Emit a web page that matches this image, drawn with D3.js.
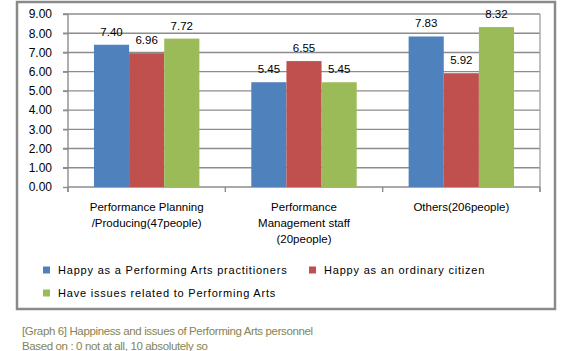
<!DOCTYPE html>
<meta charset="utf-8">
<style>
body { margin: 0; background: #fff; }
svg { display: block; font-family: "Liberation Sans", Arial, sans-serif; }
.grid line { stroke: #8c8c8c; stroke-width: 1.4px; }
.axis path, .axis line { stroke: #8c8c8c; stroke-width: 1.4px; }
.vlabel { font-size: 11.5px; fill: #000; text-anchor: middle; }
.ylab { font-size: 12px; fill: #000; text-anchor: end; }
.xlab { font-size: 11.5px; fill: #000; text-anchor: middle; }
.legend text { font-size: 11px; fill: #000; letter-spacing: 0.8px; }
.caption { font-size: 11.5px; fill: #848456; letter-spacing: -0.37px; }
</style>
<svg width="570" height="351"></svg>
<script src="https://d3js.org/d3.v7.min.js"></script>
<script>
var categories = [
  ["Performance Planning", "/Producing(47people)"],
  ["Performance", "Management staff", "(20people)"],
  ["Others(206people)"]
];
var seriesNames = [
  "Happy as a Performing Arts practitioners",
  "Happy as an ordinary citizen",
  "Have issues related to Performing Arts"
];
var happyPractitioner = [7.40, 5.45, 7.83];
var happyCitizen = [6.96, 6.55, 5.92];
var haveIssues = [7.72, 5.45, 8.32];
var yTicks = [0, 1, 2, 3, 4, 5, 6, 7, 8, 9];
var captionLines = [
  "[Graph 6] Happiness and issues of Performing Arts personnel",
  "Based on : 0 not at all, 10 absolutely so"
];
var colors = ["#4f81bd", "#c0504d", "#9bbb59"];

var series = [happyPractitioner, happyCitizen, haveIssues];

var svg = d3.select("svg");

// outer frame
svg.append("rect")
    .attr("x", 17).attr("y", 2)
    .attr("width", 538).attr("height", 307)
    .attr("fill", "#fff")
    .attr("stroke", "#8a8a8a")
    .attr("stroke-width", 2.5);

var plotLeft = 68, plotRight = 540, plotTop = 14, plotBottom = 187;

var x0 = d3.scaleBand()
    .domain(d3.range(categories.length))
    .range([plotLeft, plotRight])
    .paddingInner(0.33)
    .paddingOuter(0.165);

var x1 = d3.scaleBand()
    .domain(d3.range(series.length))
    .range([0, x0.bandwidth()]);

var y = d3.scaleLinear()
    .domain([0, 9])
    .range([plotBottom, plotTop]);

// gridlines
svg.append("g").attr("class", "grid")
  .selectAll("line")
  .data(yTicks.slice(1))
  .join("line")
    .attr("x1", plotLeft - 5).attr("x2", plotRight)
    .attr("y1", function(d) { return y(d); })
    .attr("y2", function(d) { return y(d); });

// right plot edge
svg.append("line")
    .attr("x1", plotRight).attr("x2", plotRight)
    .attr("y1", plotTop).attr("y2", plotBottom + 5)
    .attr("stroke", "#a6a6a6").attr("stroke-width", 1.4);

// y axis
var yAxis = svg.append("g").attr("class", "axis")
    .attr("transform", "translate(" + plotLeft + ",0)")
    .call(d3.axisLeft(y).tickValues(yTicks).tickSize(5).tickFormat(""));
yAxis.select(".domain").attr("d", "M0," + plotTop + "V" + (plotBottom + 5));

svg.append("g").selectAll("text")
  .data(yTicks)
  .join("text")
    .attr("class", "ylab")
    .attr("x", 52)
    .attr("y", function(d) { return y(d); })
    .attr("dy", "0.36em")
    .text(function(d) { return d3.format(".2f")(d); });

// x axis
var boundaries = d3.range(categories.length + 1).map(function(i) {
  return plotLeft + i * (plotRight - plotLeft) / categories.length;
});
svg.append("line")
    .attr("x1", plotLeft).attr("x2", plotRight)
    .attr("y1", plotBottom).attr("y2", plotBottom)
    .attr("stroke", "#8c8c8c").attr("stroke-width", 1.4);
svg.append("g").selectAll("line")
  .data(boundaries)
  .join("line")
    .attr("x1", function(d) { return d; }).attr("x2", function(d) { return d; })
    .attr("y1", plotBottom).attr("y2", plotBottom + 5)
    .attr("stroke", "#8c8c8c").attr("stroke-width", 1.4);

// bars
var groups = svg.append("g").selectAll("g")
  .data(categories)
  .join("g")
    .attr("transform", function(d, i) { return "translate(" + x0(i) + ",0)"; });

groups.selectAll("rect")
  .data(function(d, i) { return series.map(function(s, j) { return {s: j, v: s[i]}; }); })
  .join("rect")
    .attr("x", function(d) { return x1(d.s); })
    .attr("y", function(d) { return y(d.v); })
    .attr("width", x1.bandwidth())
    .attr("height", function(d) { return plotBottom - y(d.v); })
    .attr("fill", function(d) { return colors[d.s]; });

groups.selectAll("text")
  .data(function(d, i) { return series.map(function(s, j) { return {s: j, v: s[i]}; }); })
  .join("text")
    .attr("class", "vlabel")
    .attr("x", function(d) { return x1(d.s) + x1.bandwidth() / 2; })
    .attr("y", function(d) { return y(d.v) - 9; })
    .text(function(d) { return d3.format(".2f")(d.v); });

// category labels
svg.append("g").selectAll("text")
  .data(categories)
  .join("text")
    .attr("class", "xlab")
    .attr("x", function(d, i) { return x0(i) + x0.bandwidth() / 2; })
    .attr("y", 211)
  .selectAll("tspan")
  .data(function(d) { return d; })
  .join("tspan")
    .attr("x", function() { return d3.select(this.parentNode).attr("x"); })
    .attr("dy", function(d, i) { return i === 0 ? 0 : 16; })
    .text(function(d) { return d; });

// legend
var legendPos = [[43, 270], [309, 270], [43, 293]];
var legend = svg.append("g").attr("class", "legend")
  .selectAll("g")
  .data(seriesNames)
  .join("g")
    .attr("transform", function(d, i) { return "translate(" + legendPos[i][0] + "," + legendPos[i][1] + ")"; });
legend.append("rect")
    .attr("x", 0).attr("y", -3.5)
    .attr("width", 7).attr("height", 7)
    .attr("fill", function(d, i) { return colors[i]; });
legend.append("text")
    .attr("x", 15).attr("dy", "0.36em")
    .text(function(d) { return d; });

// caption
svg.append("g").selectAll("text")
  .data(captionLines)
  .join("text")
    .attr("class", "caption")
    .attr("x", 22)
    .attr("y", function(d, i) { return 335 + i * 15; })
    .text(function(d) { return d; });
</script>
